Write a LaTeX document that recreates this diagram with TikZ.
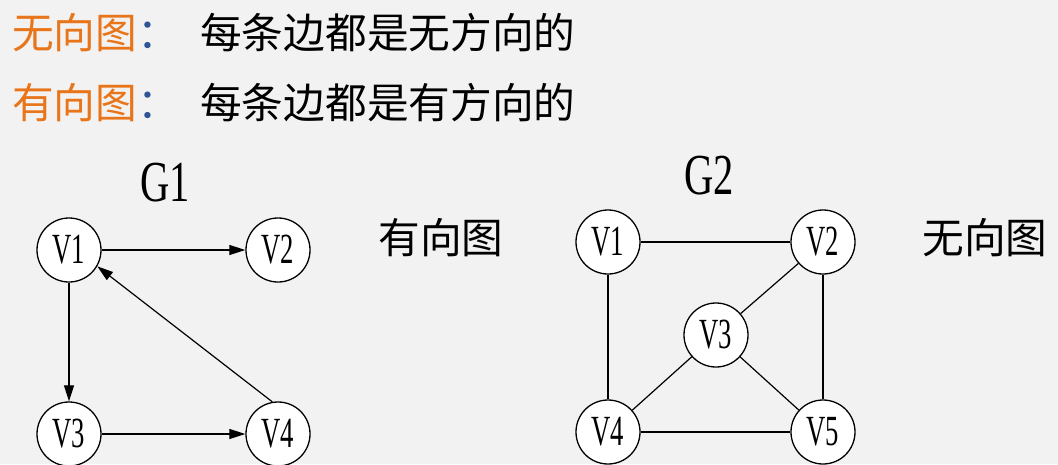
\documentclass[tikz,border=0pt]{standalone}
\usepackage{fontspec}
\setmainfont{Liberation Serif}
\newfontfamily\cjk{Noto Sans CJK SC}
\usetikzlibrary{arrows.meta}
\definecolor{bg}{HTML}{F2F2F2}
\definecolor{orangetxt}{HTML}{E8751A}
\definecolor{colonblue}{HTML}{2F5597}
\begin{document}
\begin{tikzpicture}[x=1pt,y=-1pt,
  vtx/.style={circle,draw=black,line width=1.3pt,fill=white,minimum size=64pt,inner sep=0pt,
    font=\fontsize{43}{43}\selectfont},
  cjktxt/.style={inner sep=0pt,font=\cjk\fontsize{41.7}{41.7}\selectfont},
  glabel/.style={inner sep=0pt,font=\fontsize{58}{58}\selectfont},
  edge/.style={line width=1.2pt,black},
  arr/.style={edge,-{Triangle[length=16pt,width=10pt]}}]
\fill[bg] (0,0) rectangle (1058,464);
\useasboundingbox (0,0) rectangle (1058,464);
% top text
\node[cjktxt,anchor=west] (u1) at (12,33) {\textcolor{orangetxt}{无向图}\textcolor{colonblue}{：}};
\node[cjktxt,anchor=west] (u2) at (200,33) {每条边都是无方向的};
\node[cjktxt,anchor=west] (d1) at (12,103) {\textcolor{orangetxt}{有向图}\textcolor{colonblue}{：}};
\node[cjktxt,anchor=west] (d2) at (200,103) {每条边都是有方向的};
% G1
\node[glabel] (g1) at (165,183) {\scalebox{0.7}[1]{G1}};
\node[vtx] (a1) at (69,250) {\scalebox{0.62}[1]{V1}};
\node[vtx] (a2) at (278,250) {\scalebox{0.62}[1]{V2}};
\node[vtx] (a3) at (69,434) {\scalebox{0.62}[1]{V3}};
\node[vtx] (a4) at (278,434) {\scalebox{0.62}[1]{V4}};
\draw[arr] (a1) -- (a2);
\draw[arr] (a1) -- (a3);
\draw[arr] (a3) -- (a4);
\draw[arr] (a4.100) -- (a1.-30);
\node[cjktxt] (lab1) at (441,238) {有向图};
% G2
\node[glabel] (g2) at (709,176) {\scalebox{0.7}[1]{G2}};
\node[vtx] (b1) at (608,242) {\scalebox{0.62}[1]{V1}};
\node[vtx] (b2) at (823,242) {\scalebox{0.62}[1]{V2}};
\node[vtx] (b3) at (716,335) {\scalebox{0.62}[1]{V3}};
\node[vtx] (b4) at (608,432) {\scalebox{0.62}[1]{V4}};
\node[vtx] (b5) at (823,432) {\scalebox{0.62}[1]{V5}};
\draw[edge] (b1) -- (b2);
\draw[edge] (b1) -- (b4);
\draw[edge] (b2) -- (b5);
\draw[edge] (b4) -- (b5);
\draw[edge] (b2) -- (b3);
\draw[edge] (b3) -- (b4);
\draw[edge] (b3) -- (b5);
\node[cjktxt] (lab2) at (985,238) {无向图};
\end{tikzpicture}
\end{document}
